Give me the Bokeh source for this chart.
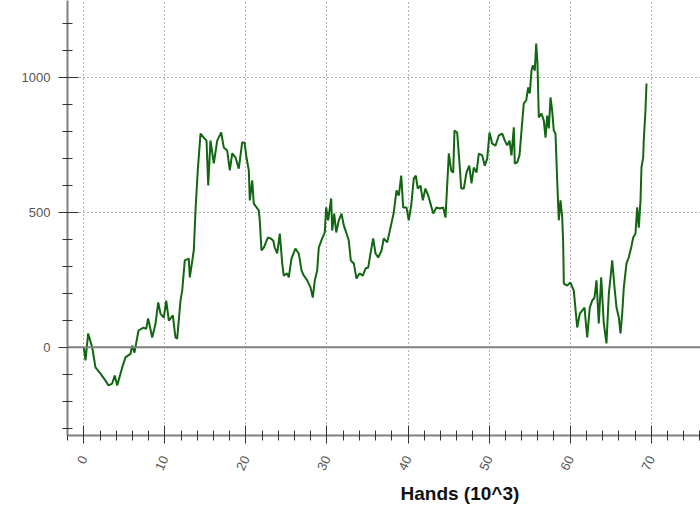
from bokeh.plotting import figure
from bokeh.models import SingleIntervalTicker, Span, Title
from bokeh.embed import file_html
from bokeh.resources import INLINE

# Hands played (thousands) and cumulative winnings ($)
hands = [0.00, 0.21, 0.54, 1.04, 1.44, 2.06, 2.68, 3.05, 3.50, 3.82, 4.12, 4.74, 5.14, 5.76, 5.97,
         6.25, 6.75, 7.36, 7.70, 7.94, 8.44, 8.85, 9.18, 9.46, 9.87, 10.17, 10.49, 10.98, 11.31, 11.52,
         11.93, 12.14, 12.46, 12.95, 13.08, 13.57, 13.78, 14.06, 14.40, 14.80, 15.14, 15.35, 15.63, 16.04,
         16.46, 16.95, 17.27, 17.69, 18.01, 18.31, 18.71, 19.12, 19.54, 19.83, 20.07, 20.36, 20.48, 20.78,
         20.97, 21.31, 21.59, 21.71, 21.92, 22.21, 22.70, 23.03, 23.37, 23.56, 23.86, 24.18, 24.48, 24.67,
         25.09, 25.29, 25.62, 26.11, 26.52, 26.86, 27.14, 27.56, 27.97, 28.25, 28.50, 28.79, 28.99, 29.41,
         29.73, 29.90, 30.15, 30.31, 30.52, 30.64, 30.89, 31.14, 31.46, 31.79, 32.08, 32.37, 32.69, 32.94,
         33.31, 33.64, 34.01, 34.42, 34.75, 35.09, 35.37, 35.70, 35.99, 36.32, 36.73, 37.01, 37.43, 37.84,
         38.24, 38.58, 38.86, 39.16, 39.40, 39.81, 40.09, 40.39, 40.71, 40.96, 41.20, 41.54, 41.82, 42.15,
         42.49, 42.77, 43.10, 43.51, 43.92, 44.34, 44.62, 44.83, 45.03, 45.32, 45.57, 45.73, 46.06, 46.31,
         46.56, 46.88, 47.21, 47.55, 47.83, 48.11, 48.45, 48.73, 49.15, 49.47, 49.77, 50.05, 50.38, 50.79,
         51.20, 51.62, 51.94, 52.23, 52.52, 52.76, 53.05, 53.17, 53.47, 53.75, 54.00, 54.28, 54.58, 54.82,
         55.02, 55.23, 55.39, 55.64, 55.81, 55.97, 56.13, 56.46, 56.75, 56.96, 57.17, 57.37, 57.58, 57.78,
         57.98, 58.19, 58.40, 58.60, 58.81, 59.02, 59.14, 59.22, 59.63, 60.04, 60.45, 60.87, 61.19, 61.48,
         61.77, 62.10, 62.42, 62.72, 63.00, 63.25, 63.53, 63.83, 64.15, 64.48, 64.77, 64.98, 65.19, 65.47,
         65.72, 66.00, 66.21, 66.42, 66.62, 66.95, 67.23, 67.53, 67.78, 68.06, 68.27, 68.47, 68.68, 68.80,
         69.01, 69.08, 69.29, 69.42]
winnings = [0, -49, 51, -1, -75, -98, -124, -142, -135, -105, -142, -75, -38, -25, 6,
            -20, 62, 73, 68, 107, 36, 88, 166, 125, 110, 173, 99, 118, 36, 32,
            173, 210, 322, 329, 259, 359, 507, 656, 793, 778, 767, 600, 767, 682,
            767, 797, 741, 730, 656, 719, 705, 663, 760, 760, 704, 656, 545, 619,
            533, 519, 508, 470, 359, 370, 407, 404, 396, 370, 348, 422, 311, 266,
            274, 259, 329, 366, 348, 285, 266, 248, 222, 184, 248, 285, 370, 404,
            426, 519, 471, 508, 552, 433, 496, 426, 471, 496, 452, 426, 396, 322,
            311, 255, 274, 266, 292, 296, 348, 404, 348, 333, 359, 404, 389, 444,
            500, 582, 563, 637, 519, 519, 471, 526, 626, 637, 589, 600, 545, 589,
            563, 533, 496, 519, 515, 519, 481, 600, 719, 656, 648, 804, 797, 700,
            589, 589, 648, 674, 608, 667, 648, 719, 712, 674, 700, 797, 756, 748,
            786, 793, 767, 749, 767, 712, 816, 682, 686, 712, 804, 905, 916, 964,
            942, 1027, 1046, 1027, 1127, 1053, 853, 867, 841, 778, 860, 812, 927, 879,
            804, 793, 619, 471, 545, 482, 385, 236, 229, 240, 210, 73, 125, 136,
            147, 36, 147, 173, 184, 248, 88, 259, 88, 14, 199, 259, 322, 222,
            147, 111, 51, 125, 222, 311, 333, 370, 407, 422, 519, 444, 545, 668,
            704, 767, 879, 979]

x_label = "Hands (10^3)"

p = figure(width=700, height=513, x_range=(-2.01, 76.08), y_range=(-327.8, 1287.0),
           output_backend="svg", toolbar_location=None,
           min_border_left=67, min_border_right=0, min_border_top=0, min_border_bottom=78)
p.outline_line_color = None
p.background_fill_color = "white"
p.border_fill_color = "white"

# axes
xa = p.xaxis[0]
xa.ticker = SingleIntervalTicker(interval=10, num_minor_ticks=5)
ya = p.yaxis[0]
ya.ticker = SingleIntervalTicker(interval=500, num_minor_ticks=5)

for ax in (xa, ya):
    ax.axis_line_color = "#808080"
    ax.axis_line_width = 2
    ax.major_tick_line_color = "#333333"
    ax.minor_tick_line_color = "#333333"
    ax.major_label_text_font = "Liberation Sans"
    ax.major_label_text_font_size = "13px"
    ax.major_label_text_color = "#555555"

ya.major_tick_in = 11
ya.major_tick_out = 9
ya.minor_tick_in = 5
ya.minor_tick_out = 5
ya.major_label_standoff = 8

xa.major_tick_in = 10
xa.major_tick_out = 8
xa.minor_tick_in = 5
xa.minor_tick_out = 5
xa.major_label_standoff = 13
xa.major_label_orientation = 1.13

# grid
p.xgrid.grid_line_color = "#666666"
p.xgrid.grid_line_dash = "1 3"
p.xgrid.grid_line_width = 1
p.ygrid.grid_line_color = "#666666"
p.ygrid.grid_line_dash = "1 3"
p.ygrid.grid_line_width = 1

zero = Span(location=0, dimension="width", line_color="#808080", line_width=2)
p.add_layout(zero)

p.line(hands, winnings, line_color="#116611", line_width=2)

xtitle = Title(text=x_label, align="left", offset=333,
               text_font="Liberation Sans", text_font_style="bold", text_font_size="19px",
               text_color="#111111", standoff=8)
p.add_layout(xtitle, "below")

open("out.html", "w").write(file_html(p, INLINE))
